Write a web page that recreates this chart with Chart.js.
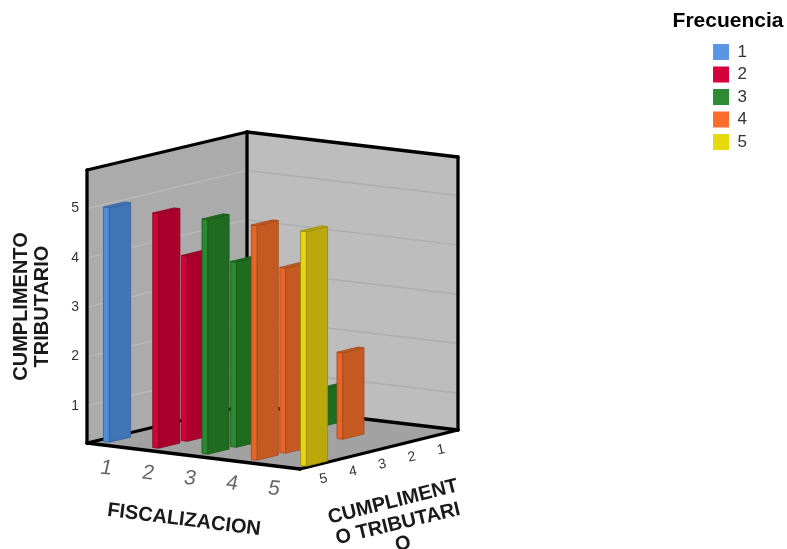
<!DOCTYPE html>
<html>
<head>
<meta charset="utf-8">
<title>Cumplimiento tributario por fiscalizacion</title>
<script src="https://cdn.jsdelivr.net/npm/chart.js@4"></script>
<style>
    html, body { margin: 0; background: #fff; }
    canvas { display: block; }
</style>
</head>
<body>
<canvas id="barChart3d" width="787" height="549"></canvas>
<script>
// One entry per bar
const fiscalizacion = [1, 2, 2, 3, 3, 3, 4, 4, 4, 5];
const cumplimiento = [5, 5, 4, 5, 4, 1, 5, 4, 2, 5];
const frecuencia = [1, 2, 2, 3, 3, 3, 4, 4, 4, 5];

const frecuenciaLabels = ['1', '2', '3', '4', '5'];
const fiscalizacionTicks = [1, 2, 3, 4, 5];
const cumplimientoTicks = [5, 4, 3, 2, 1];

const legendColors = ['#5b96e3', '#d3003a', '#2e8b35', '#f96c2c', '#e6d90c'];
const frontColors = ['#4d8fdd', '#d40038', '#2a8a31', '#e8652a', '#e4d70e'];
const sideColors = ['#3f74b6', '#a9002e', '#1f6b20', '#c45a22', '#bba90c'];
const edgeColors = ['#34659f', '#8c0026', '#185a18', '#a34a1c', '#9c8c0a'];

const FONT = '"Liberation Sans", Arial, sans-serif';

// Floor corners of the box, in canvas pixels
const floorCorners = {
    left: [87, 443],
    front: [300, 469],
    right: [458, 430],
    back: [247, 405]
};
const BOX_FLOOR = 0.25;
const BOX_TOP = 5.78;
const BAR_HALF_X = 0.06;
const BAR_HALF_DEPTH = 0.37;

function fraction(scale, value) {
    return (scale.getPixelForValue(value) - scale.left) / scale.width;
}

// Bilinear position on the floor: u runs left -> front, v runs left -> back
function floorPoint(u, v) {
    const { left, front, right, back } = floorCorners;
    const mix = i => (1 - u) * (1 - v) * left[i] + u * (1 - v) * front[i] + u * v * right[i] + (1 - u) * v * back[i];
    return [mix(0), mix(1)];
}

function raise(chart, point, value) {
    const yScale = chart.scales.y;
    return [point[0], point[1] + yScale.getPixelForValue(value) - yScale.getPixelForValue(BOX_FLOOR)];
}

function polygon(ctx, points, fill, stroke) {
    ctx.beginPath();
    points.forEach((p, i) => i ? ctx.lineTo(p[0], p[1]) : ctx.moveTo(p[0], p[1]));
    ctx.closePath();
    ctx.fillStyle = fill;
    ctx.fill();
    if (stroke) {
        ctx.strokeStyle = stroke;
        ctx.lineWidth = 0.8;
        ctx.stroke();
    }
}

function segment(ctx, a, b) {
    ctx.beginPath();
    ctx.moveTo(a[0], a[1]);
    ctx.lineTo(b[0], b[1]);
    ctx.stroke();
}

function slantedText(ctx, text, x, y, angle, shear, font, color) {
    ctx.save();
    ctx.translate(x, y);
    ctx.rotate(angle * Math.PI / 180);
    ctx.transform(1, 0, shear, 1, 0, 0);
    ctx.font = font;
    ctx.fillStyle = color;
    ctx.textAlign = 'center';
    ctx.textBaseline = 'middle';
    ctx.fillText(text, 0, 0);
    ctx.restore();
}

function drawBox(chart) {
    const ctx = chart.ctx;
    const { left, front, right, back } = floorCorners;
    const topLeft = raise(chart, left, BOX_TOP);
    const topBack = raise(chart, back, BOX_TOP);
    const topRight = raise(chart, right, BOX_TOP);

    polygon(ctx, [left, back, topBack, topLeft], '#ababab');
    polygon(ctx, [back, right, topRight, topBack], '#bdbdbd');
    polygon(ctx, [left, front, right, back], '#a2a2a2');

    ctx.lineWidth = 1.5;
    cumplimientoTicks.forEach(tick => {
        ctx.strokeStyle = '#b8b8b8';
        segment(ctx, raise(chart, left, tick), raise(chart, back, tick));
        ctx.strokeStyle = '#aeaeae';
        segment(ctx, raise(chart, back, tick), raise(chart, right, tick));
    });

    ctx.save();
    ctx.strokeStyle = '#000';
    ctx.lineWidth = 3.3;
    ctx.lineCap = 'round';
    segment(ctx, topLeft, topBack);
    segment(ctx, topBack, topRight);
    segment(ctx, left, topLeft);
    segment(ctx, back, topBack);
    segment(ctx, right, topRight);
    segment(ctx, left, back);
    segment(ctx, back, right);
    segment(ctx, left, front);
    segment(ctx, front, right);
    ctx.restore();
}

function drawBars(chart) {
    const ctx = chart.ctx;
    const xScale = chart.scales.x;
    const depthScale = chart.scales.depth;
    const bars = [];

    chart.data.datasets.forEach((dataset, i) => {
        dataset.data.forEach(point => {
            bars.push({ point, color: i, order: fraction(depthScale, point.depth) - fraction(xScale, point.x) * 0.01 });
        });
    });
    // farthest bars first
    bars.sort((a, b) => b.order - a.order);

    bars.forEach(({ point, color }) => {
        const u0 = fraction(xScale, point.x - BAR_HALF_X);
        const u1 = fraction(xScale, point.x + BAR_HALF_X);
        const v0 = fraction(depthScale, point.depth + BAR_HALF_DEPTH);
        const v1 = fraction(depthScale, point.depth - BAR_HALF_DEPTH);
        const a = floorPoint(u0, v0);
        const b = floorPoint(u1, v0);
        const c = floorPoint(u1, v1);
        const d = floorPoint(u0, v1);
        const [ta, tb, tc, td] = [a, b, c, d].map(p => raise(chart, p, point.y));

        polygon(ctx, [a, b, tb, ta], frontColors[color], edgeColors[color]);
        polygon(ctx, [b, c, tc, tb], sideColors[color], edgeColors[color]);
        polygon(ctx, [ta, tb, tc, td], sideColors[color], edgeColors[color]);
    });
}

function drawAxisText(chart) {
    const ctx = chart.ctx;
    const labelScale = chart.scales.xLabels;
    const depthLabelScale = chart.scales.depthLabels;

    fiscalizacionTicks.forEach(tick => {
        const p = floorPoint(fraction(labelScale, tick), 0);
        slantedText(ctx, String(tick), p[0], p[1] + 23, 6, -0.12, '21px ' + FONT, '#666');
    });
    cumplimientoTicks.forEach(tick => {
        const p = floorPoint(1, fraction(depthLabelScale, tick));
        slantedText(ctx, String(tick), p[0] + 3, p[1] + 15, -12, 0, '14px ' + FONT, '#333');
    });

    slantedText(ctx, 'FISCALIZACION', 184, 520, 7.2, 0, 'bold 20px ' + FONT, '#1a1a1a');
    slantedText(ctx, 'CUMPLIMENT', 393, 502, -14.2, 0, 'bold 20px ' + FONT, '#1a1a1a');
    slantedText(ctx, 'O TRIBUTARI', 398, 524, -13.5, 0, 'bold 20px ' + FONT, '#1a1a1a');
    slantedText(ctx, 'O', 403, 544, -13.5, 0, 'bold 20px ' + FONT, '#1a1a1a');

    slantedText(ctx, 'Frecuencia', 728, 21, 0, 0, 'bold 21px ' + FONT, '#000');
}

const box3d = {
    id: 'box3d',
    afterLayout(chart) {
        // the legend sits at the top of the page, above the box
        chart.legend.top = 38;
    },
    beforeDatasetsDraw(chart) {
        drawBox(chart);
        drawBars(chart);
        drawAxisText(chart);
    }
};

const datasets = frecuenciaLabels.map((label, i) => ({
    label,
    backgroundColor: legendColors[i],
    borderColor: legendColors[i],
    borderWidth: 0,
    pointRadius: 0,
    showLine: false,
    data: fiscalizacion
        .map((x, k) => ({ x, y: cumplimiento[k], depth: cumplimiento[k], freq: frecuencia[k] }))
        .filter(p => p.freq === i + 1)
}));

new Chart(document.getElementById('barChart3d'), {
    type: 'scatter',
    data: { datasets },
    plugins: [box3d],
    options: {
        responsive: false,
        animation: false,
        layout: { padding: { left: 8, top: 170, bottom: 106, right: 30 } },
        plugins: {
            tooltip: { enabled: false },
            legend: {
                position: 'right',
                align: 'start',
                onClick: null,
                labels: {
                    boxWidth: 16,
                    boxHeight: 16,
                    padding: 5.5,
                    color: '#333',
                    font: { family: FONT, size: 17 }
                }
            }
        },
        scales: {
            x: { type: 'linear', display: false, min: 0.805, max: 5.125 },
            xLabels: { type: 'linear', axis: 'x', display: false, min: 0.54, max: 5.62 },
            depth: { type: 'linear', axis: 'x', display: false, min: 0.16, max: 5.71, reverse: true },
            depthLabels: { type: 'linear', axis: 'x', display: false, min: 0.32, max: 5.7, reverse: true },
            y: {
                type: 'linear',
                min: BOX_FLOOR,
                max: BOX_TOP,
                afterFit(scale) { scale.width = 79; },
                afterBuildTicks(scale) { scale.ticks = cumplimientoTicks.map(value => ({ value })); },
                grid: { display: false, drawTicks: false },
                border: { display: false },
                ticks: {
                    padding: 8,
                    color: '#333',
                    font: { family: FONT, size: 14 }
                },
                title: {
                    display: true,
                    text: ['CUMPLIMENTO', 'TRIBUTARIO'],
                    color: '#1a1a1a',
                    font: { family: FONT, size: 20, weight: 'bold', lineHeight: 1.05 },
                    padding: { top: 3, bottom: 0 }
                }
            }
        }
    }
});
</script>
</body>
</html>
